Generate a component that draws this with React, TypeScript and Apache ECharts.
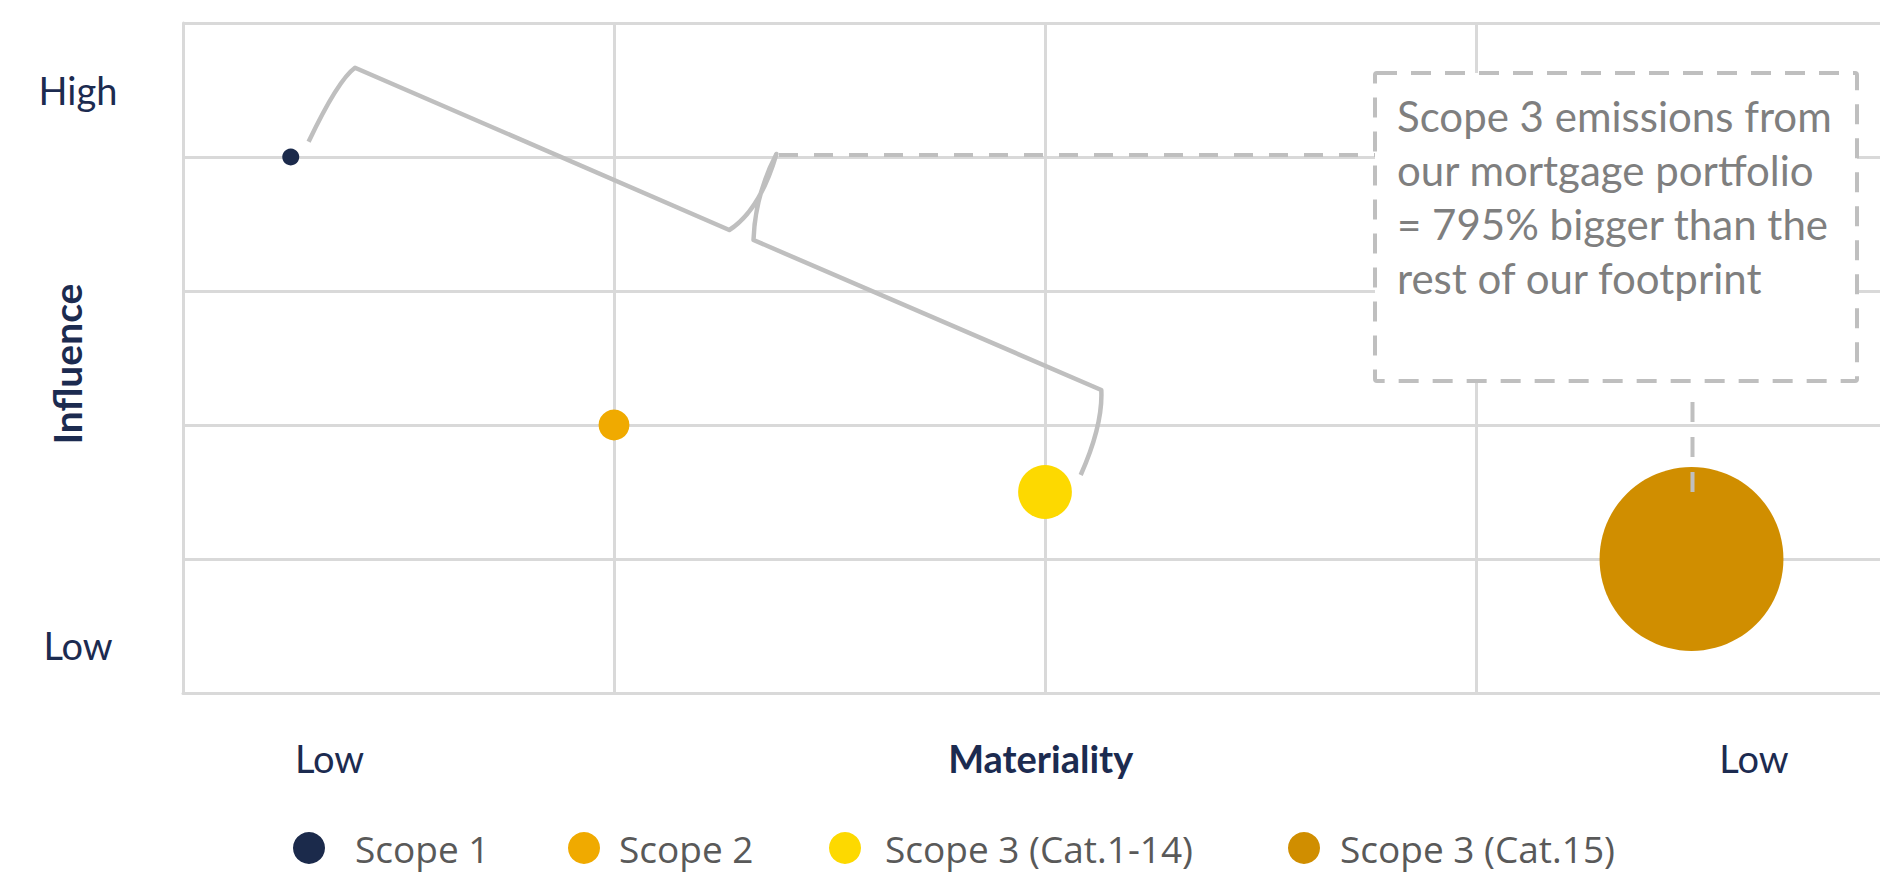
import React, { useEffect, useRef } from "react";
import * as echarts from "echarts";

// Emission sources plotted on a materiality / influence matrix
const seriesNames = ["Scope 1", "Scope 2", "Scope 3 (Cat.1-14)", "Scope 3 (Cat.15)"];
const materiality = [0.25, 1, 2, 3.5];
const influence = [4, 2, 1.5, 1];
// relative footprint, drives bubble area
const relativeEmissions = [1, 3.3, 10, 117];
const seriesColors = ["#1b2a4b", "#f0aa00", "#fdd900", "#d08e00"];

// qualitative axis captions
const xCaptions = [
  { text: "Low", at: 0.34, bold: false },
  { text: "Materiality", at: 1.99, bold: true },
  { text: "Low", at: 3.645, bold: false },
];
const yCaptions = [
  { text: "High", at: 4.5 },
  { text: "Low", at: 0.36 },
];
const yTitle = "Influence";

const calloutLines = [
  "Scope 3 emissions from",
  "our mortgage portfolio",
  "= 795% bigger than the",
  "rest of our footprint",
];

const NAVY = "#1c2b50";
const GRID = "#d9d9d9";
const NOTE = "#bfbfbf";

const VIEW_W = 1880;
const VIEW_H = 872;
// the plot runs past the right edge of the view, so the canvas is wider and clipped
const CANVAS_W = 1920;

const GRID_LEFT = 183;
const GRID_TOP = 23;
const GRID_W = 1724;
const GRID_H = 670;

const BRACE_D =
  "M308.6 141.7 Q338 80 355 67.7 L729.3 230 Q760 210 776.4 154 Q755 195 753.5 240 L1101.3 390 Q1103 425 1080.7 475";

export default function App() {
  const ref = useRef<HTMLDivElement>(null);

  useEffect(() => {
    if (!ref.current) return;
    echarts.graphic.registerShape("brace", echarts.graphic.extendPath(BRACE_D, {}) as any);
    const chart = echarts.init(ref.current, null, { renderer: "svg" });

    const legendLeft = [293, 568, 829, 1288];
    const legendPad = [25, 14, 19, 15];

    chart.setOption({
      animation: false,
      grid: { left: GRID_LEFT, top: GRID_TOP, width: GRID_W, height: GRID_H, containLabel: false },
      xAxis: {
        type: "value",
        min: 0,
        max: 4,
        interval: 1,
        axisLabel: { show: false },
        axisTick: { show: false },
        axisLine: { show: true, lineStyle: { color: GRID, width: 3 } },
        splitLine: { show: true, lineStyle: { color: GRID, width: 3 } },
      },
      yAxis: {
        type: "value",
        min: 0,
        max: 5,
        interval: 1,
        axisLabel: { show: false },
        axisTick: { show: false },
        axisLine: { show: true, lineStyle: { color: GRID, width: 3 } },
        splitLine: { show: true, lineStyle: { color: GRID, width: 3 } },
      },
      legend: seriesNames.map((name, i) => ({
        data: [name],
        left: legendLeft[i],
        top: 829,
        padding: 0,
        itemGap: 0,
        icon: "circle",
        itemWidth: 32,
        itemHeight: 32,
        selectedMode: false,
        textStyle: {
          fontFamily: "Open Sans",
          fontSize: 37,
          lineHeight: 38,
          color: "#595959",
          padding: [0, 0, 0, legendPad[i]],
        },
      })),
      series: seriesNames.map((name, i) => ({
        name,
        type: "scatter",
        symbol: "circle",
        data: [[materiality[i], influence[i], relativeEmissions[i]]],
        symbolSize: (v: number[]) => 17 * Math.sqrt(v[2]),
        itemStyle: { color: seriesColors[i], opacity: 1 },
        emphasis: { disabled: true },
      })),
    });

    const toPx = (x: number, y: number) => chart.convertToPixel({ gridIndex: 0 }, [x, y]) as number[];
    const axisBottom = toPx(0, 0)[1];

    const graphics: any[] = [];
    xCaptions.forEach((c) => {
      graphics.push({
        type: "text",
        x: toPx(c.at, 0)[0],
        y: axisBottom + 65,
        z: 5,
        style: {
          text: c.text,
          fontFamily: "Lato",
          fontWeight: c.bold ? "bold" : "normal",
          fontSize: 38,
          fill: NAVY,
          align: "center",
          verticalAlign: "middle",
        },
      });
    });
    yCaptions.forEach((c) => {
      graphics.push({
        type: "text",
        x: 78,
        y: toPx(0, c.at)[1],
        z: 5,
        style: {
          text: c.text,
          fontFamily: "Lato",
          fontSize: 38,
          fill: NAVY,
          align: "center",
          verticalAlign: "middle",
        },
      });
    });
    graphics.push({
      type: "text",
      x: 67,
      y: 364,
      rotation: Math.PI / 2,
      z: 5,
      style: {
        text: yTitle,
        fontFamily: "Lato",
        fontWeight: "bold",
        fontSize: 39,
        fill: NAVY,
        align: "center",
        verticalAlign: "middle",
      },
    });

    // bracket grouping the first three sources
    graphics.push({
      type: "brace",
      x: 0,
      y: 0,
      z: 5,
      style: { stroke: NOTE, lineWidth: 4.5, fill: "none", lineJoin: "round", lineCap: "butt" },
    });
    // connector from the bracket to the callout
    graphics.push({
      type: "line",
      z: 5,
      shape: { x1: 779, y1: 155, x2: 1375, y2: 155 },
      style: { stroke: NOTE, lineWidth: 4, lineDash: [19, 16] },
    });
    // callout box
    graphics.push({
      type: "rect",
      z: 6,
      shape: { x: 1375, y: 73, width: 482, height: 308, r: 2 },
      style: { fill: "#ffffff", stroke: NOTE, lineWidth: 4, lineDash: [20, 14] },
    });
    calloutLines.forEach((line, i) => {
      graphics.push({
        type: "text",
        x: 1397,
        y: 115.5 + 54 * i,
        z: 7,
        style: {
          text: line,
          fontFamily: "Lato",
          fontSize: 42,
          fill: "#7f7f7f",
          align: "left",
          verticalAlign: "middle",
        },
      });
    });
    // connector from the callout down to the Cat.15 bubble
    const cat15 = toPx(materiality[3], influence[3]);
    graphics.push({
      type: "line",
      z: 8,
      shape: { x1: cat15[0] + 1, y1: 402, x2: cat15[0] + 1, y2: 492 },
      style: { stroke: NOTE, lineWidth: 4, lineDash: [20, 15] },
    });

    chart.setOption({ graphic: graphics });

    return () => chart.dispose();
  }, []);

  return (
    <div
      style={{
        position: "absolute",
        left: 0,
        top: 0,
        width: VIEW_W,
        height: VIEW_H,
        overflow: "hidden",
      }}
    >
      <div ref={ref} style={{ width: CANVAS_W, height: VIEW_H }} />
    </div>
  );
}
